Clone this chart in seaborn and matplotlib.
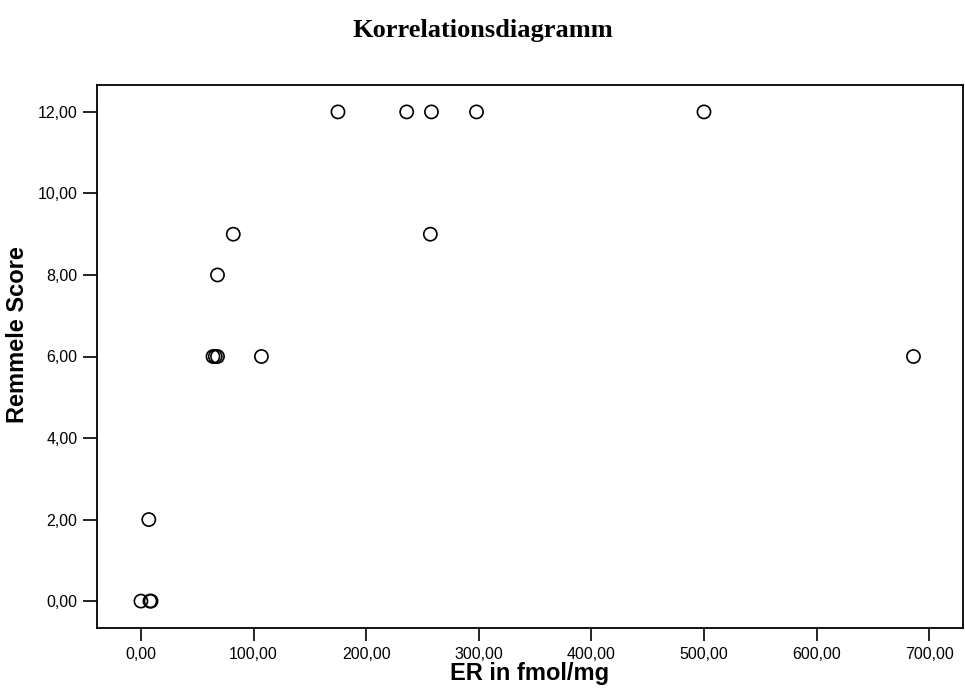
import matplotlib
matplotlib.use("Agg")
import matplotlib.pyplot as plt
import seaborn as sns
import pandas as pd

er_values = [175, 236, 258, 298, 500, 82, 257, 68, 64, 66, 68, 107, 686, 7, 0, 8, 9]
remmele_score = [12, 12, 12, 12, 12, 9, 9, 8, 6, 6, 6, 6, 6, 2, 0, 0, 0]
x_ticks = [0, 100, 200, 300, 400, 500, 600, 700]
y_ticks = [0, 2, 4, 6, 8, 10, 12]

df = pd.DataFrame({"ER": er_values, "Score": remmele_score})

sns.set_theme(style="white")
plt.rcParams["font.family"] = ["Liberation Sans", "DejaVu Sans"]
plt.rcParams["text.color"] = "black"
plt.rcParams["axes.labelcolor"] = "black"
plt.rcParams["xtick.color"] = "black"
plt.rcParams["ytick.color"] = "black"

fig = plt.figure(figsize=(9.65, 6.93), dpi=100)
ax = fig.add_axes([97 / 965, 1 - 628 / 693, (963 - 97) / 965, (628 - 85) / 693])

sns.scatterplot(data=df, x="ER", y="Score", ax=ax, marker="o", s=90,
                facecolor="none", edgecolor="black", linewidth=1.2, legend=False)

ax.set_xlim(-39, 730)
ax.set_ylim(-0.66, 12.66)
ax.set_xticks(x_ticks)
ax.set_yticks(y_ticks)
ax.set_xticklabels([f"{v:.2f}".replace(".", ",") for v in x_ticks], fontsize=11.5)
ax.set_yticklabels([f"{v:.2f}".replace(".", ",") for v in y_ticks], fontsize=11.5)
ax.tick_params(axis="both", direction="out", width=1.2, color="black",
               bottom=True, left=True, labelcolor="black")
ax.tick_params(axis="x", length=9, pad=5)
ax.tick_params(axis="y", length=10, pad=4)
for sp in ax.spines.values():
    sp.set_color("black")
    sp.set_linewidth(1.3)

ax.set_xlabel("ER in fmol/mg", fontsize=17, fontweight="bold", labelpad=0)
ax.set_ylabel("Remmele Score", fontsize=17, fontweight="bold")
ax.yaxis.set_label_coords(-68 / 866, 0.54)

fig.text(0.5, 1 - 30 / 693, "Korrelationsdiagramm", ha="center", va="center",
         fontsize=19, fontweight="bold", family=["Liberation Serif", "DejaVu Serif"])

fig.savefig("out.png", dpi=100, facecolor="white")
